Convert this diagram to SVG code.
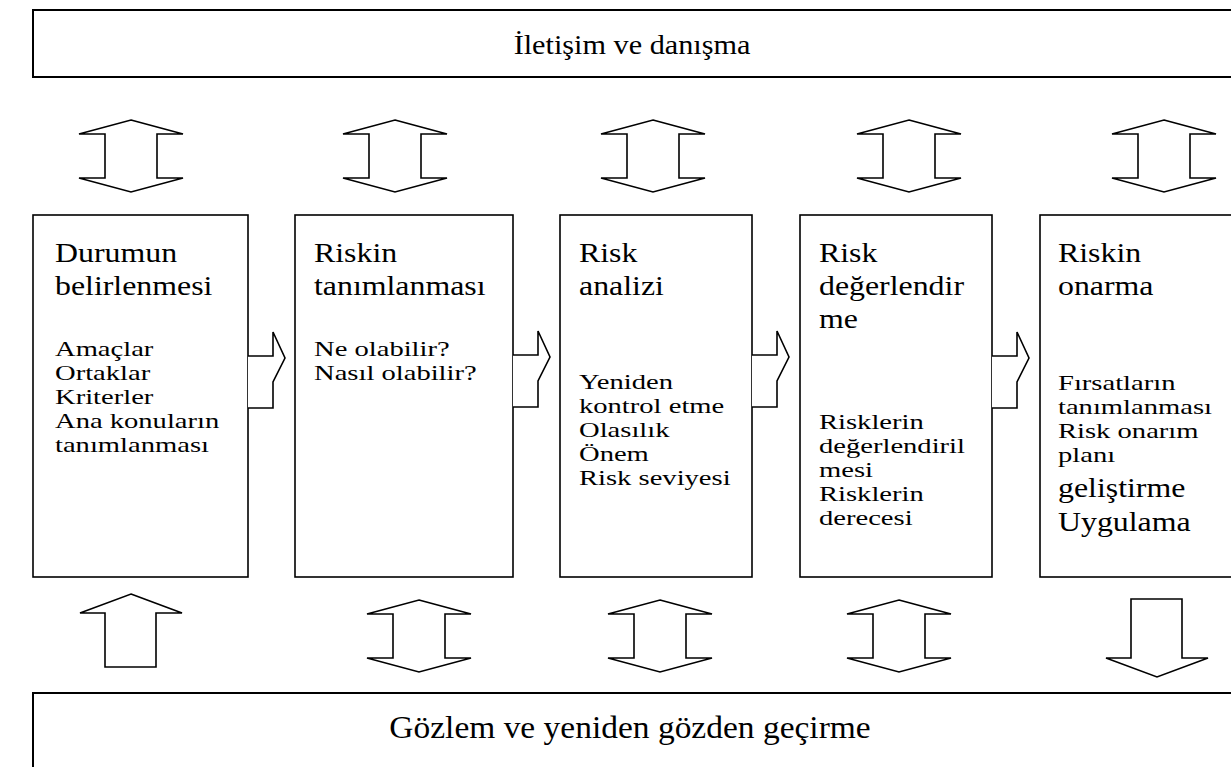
<svg xmlns="http://www.w3.org/2000/svg" width="1231" height="767" viewBox="0 0 1231 767">
<style>
.box{fill:#fff;stroke:#000;stroke-width:1.6}
.band{fill:#fff;stroke:#000;stroke-width:2}
.arr{fill:#fff;stroke:#000;stroke-width:1.6;stroke-linejoin:miter}
text{font-family:"Liberation Serif","Times New Roman",serif;fill:#000}
.h{font-size:27px}
.s{font-size:21.5px}
</style>
<defs>
<path id="dbl" d="M0,0 L52,14 L26,14 L26,58 L52,58 L0,72 L-52,58 L-26,58 L-26,14 L-52,14 Z"/>
<path id="rarr" d="M0,0 L25,0 L25,-24 L37,2 L25,26 L25,52 L0,52"/>
</defs>
<rect width="1231" height="767" fill="#fff"/>
<g id="top-band">
<rect class="band" x="33" y="10" width="1210" height="67"/>
<g transform="translate(632,0) scale(1.08,1)"><text x="0" y="54" text-anchor="middle" font-size="28">İletişim ve danışma</text></g>
</g>
<g id="bottom-band">
<rect class="band" x="33" y="693" width="1210" height="90"/>
<g transform="translate(630,0) scale(1.08,1)"><text x="0" y="738" text-anchor="middle" font-size="31">Gözlem ve yeniden gözden geçirme</text></g>
</g>
<g id="n1">
<rect class="box" x="33" y="215" width="215" height="362"/>
<g transform="translate(55,0) scale(1.18,1)">
<text class="h" x="0" y="262">Durumun</text>
<text class="h" x="0" y="295">belirlenmesi</text>
</g>
<g transform="translate(55,0) scale(1.33,1)">
<text class="s" x="0" y="356">Amaçlar</text>
<text class="s" x="0" y="380">Ortaklar</text>
<text class="s" x="0" y="404">Kriterler</text>
<text class="s" x="0" y="428">Ana konuların</text>
<text class="s" x="0" y="452">tanımlanması</text>
</g>
</g>
<g id="n2">
<rect class="box" x="295" y="215" width="218" height="362"/>
<g transform="translate(314,0) scale(1.18,1)">
<text class="h" x="0" y="262">Riskin</text>
<text class="h" x="0" y="295">tanımlanması</text>
</g>
<g transform="translate(314,0) scale(1.33,1)">
<text class="s" x="0" y="356">Ne olabilir?</text>
<text class="s" x="0" y="380">Nasıl olabilir?</text>
</g>
</g>
<g id="n3">
<rect class="box" x="560" y="215" width="192" height="362"/>
<g transform="translate(579,0) scale(1.18,1)">
<text class="h" x="0" y="262">Risk</text>
<text class="h" x="0" y="295">analizi</text>
</g>
<g transform="translate(579,0) scale(1.33,1)">
<text class="s" x="0" y="389">Yeniden</text>
<text class="s" x="0" y="413">kontrol etme</text>
<text class="s" x="0" y="437">Olasılık</text>
<text class="s" x="0" y="461">Önem</text>
<text class="s" x="0" y="485">Risk seviyesi</text>
</g>
</g>
<g id="n4">
<rect class="box" x="800" y="215" width="192" height="362"/>
<g transform="translate(819,0) scale(1.18,1)">
<text class="h" x="0" y="262">Risk</text>
<text class="h" x="0" y="295">değerlendir</text>
<text class="h" x="0" y="328">me</text>
</g>
<g transform="translate(819,0) scale(1.33,1)">
<text class="s" x="0" y="429">Risklerin</text>
<text class="s" x="0" y="453">değerlendiril</text>
<text class="s" x="0" y="477">mesi</text>
<text class="s" x="0" y="501">Risklerin</text>
<text class="s" x="0" y="525">derecesi</text>
</g>
</g>
<g id="n5">
<rect class="box" x="1040" y="215" width="200" height="362"/>
<g transform="translate(1058,0) scale(1.18,1)">
<text class="h" x="0" y="262">Riskin</text>
<text class="h" x="0" y="295">onarma</text>
<text class="h" x="0" y="497">geliştirme</text>
<text class="h" x="0" y="531">Uygulama</text>
</g>
<g transform="translate(1058,0) scale(1.33,1)">
<text class="s" x="0" y="390">Fırsatların</text>
<text class="s" x="0" y="414">tanımlanması</text>
<text class="s" x="0" y="438">Risk onarım</text>
<text class="s" x="0" y="462">planı</text>
</g>
</g>
<g id="connectors">
<use href="#dbl" class="arr" x="131" y="120"/>
<use href="#dbl" class="arr" x="395" y="120"/>
<use href="#dbl" class="arr" x="653" y="120"/>
<use href="#dbl" class="arr" x="909" y="120"/>
<use href="#dbl" class="arr" x="1164" y="120"/>
<use href="#rarr" class="arr" x="248" y="356"/>
<use href="#rarr" class="arr" x="513" y="355"/>
<use href="#rarr" class="arr" x="752" y="355"/>
<use href="#rarr" class="arr" x="992" y="356"/>
<path class="arr" d="M131,594 L182,613 L156,613 L156,667 L105,667 L105,613 L80,613 Z"/>
<use href="#dbl" class="arr" x="419" y="600"/>
<use href="#dbl" class="arr" x="660" y="600"/>
<use href="#dbl" class="arr" x="899" y="600"/>
<path class="arr" d="M1131,599 L1182,599 L1182,658 L1208,658 L1157,677 L1106,658 L1131,658 Z"/>
</g>
</svg>
